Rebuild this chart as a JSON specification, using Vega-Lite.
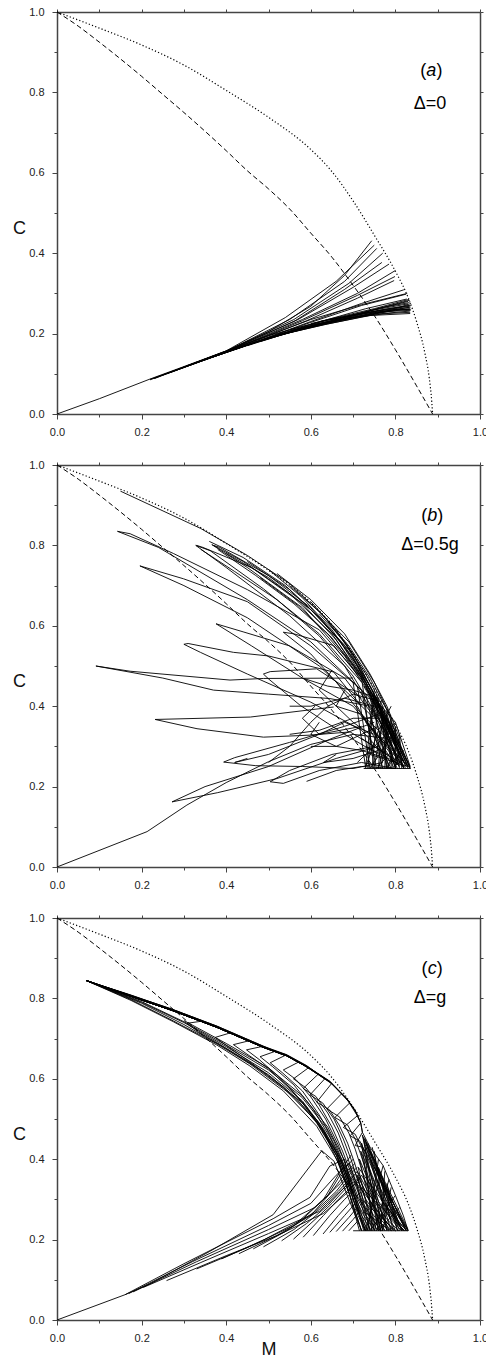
{
"$schema":"https://vega.github.io/schema/vega-lite/v6.json",
"padding":{"left":12,"top":6,"right":0,"bottom":0},
"spacing":22,
"config":{"view":{"stroke":null},"font":"Liberation Sans","axis":{"grid":false,"domainColor":"#444","domainWidth":1.5,"tickColor":"#444","tickWidth":1,"labelFont":"Liberation Sans","labelFontSize":11,"labelColor":"#222","titleFont":"Liberation Sans","titleFontSize":18,"titleFontWeight":"normal","titleColor":"#111"}},
"datasets":{
"dot":[{"M":0,"C":1},{"M":0.1,"C":0.96},{"M":0.2,"C":0.918},{"M":0.3,"C":0.868},{"M":0.4,"C":0.805},{"M":0.5,"C":0.738},{"M":0.6,"C":0.658},{"M":0.65,"C":0.603},{"M":0.7,"C":0.53},{"M":0.75,"C":0.445},{"M":0.8,"C":0.355},{"M":0.83,"C":0.29},{"M":0.85,"C":0.23},{"M":0.87,"C":0.15},{"M":0.88,"C":0.09},{"M":0.886,"C":0.03},{"M":0.888,"C":0}],
"dash":[{"M":0,"C":1},{"M":0.05,"C":0.965},{"M":0.1,"C":0.925},{"M":0.2,"C":0.84},{"M":0.25,"C":0.795},{"M":0.3,"C":0.75},{"M":0.4,"C":0.655},{"M":0.45,"C":0.605},{"M":0.5,"C":0.56},{"M":0.55,"C":0.51},{"M":0.6,"C":0.45},{"M":0.65,"C":0.39},{"M":0.7,"C":0.32},{"M":0.75,"C":0.245},{"M":0.8,"C":0.16},{"M":0.85,"C":0.07},{"M":0.888,"C":0}],
"txt":[
{"p":"a","t":"(","M":0.866,"C":0.853,"it":0},{"p":"a","t":"a","M":0.885,"C":0.853,"it":1},{"p":"a","t":")","M":0.904,"C":0.853,"it":0},{"p":"a","t":"Δ=0","M":0.882,"C":0.771,"it":0},
{"p":"b","t":"(","M":0.868,"C":0.874,"it":0},{"p":"b","t":"b","M":0.887,"C":0.874,"it":1},{"p":"b","t":")","M":0.906,"C":0.874,"it":0},{"p":"b","t":"Δ=0.5g","M":0.882,"C":0.8,"it":0},
{"p":"c","t":"(","M":0.869,"C":0.873,"it":0},{"p":"c","t":"c","M":0.887,"C":0.873,"it":1},{"p":"c","t":")","M":0.905,"C":0.873,"it":0},{"p":"c","t":"Δ=g","M":0.882,"C":0.8,"it":0}],
"A":[
{"s":0,"M":0,"C":0},{"s":0,"M":0.1,"C":0.038},{"s":0,"M":0.22,"C":0.087},{"s":0,"M":0.3,"C":0.118},{"s":0,"M":0.4,"C":0.157},{"s":0,"M":0.5,"C":0.205},{"s":0,"M":0.6,"C":0.268},{"s":0,"M":0.68,"C":0.345},{"s":0,"M":0.744,"C":0.431},
{"s":1,"M":0.22,"C":0.085},{"s":1,"M":0.4,"C":0.156},{"s":1,"M":0.55,"C":0.235},{"s":1,"M":0.68,"C":0.33},{"s":1,"M":0.756,"C":0.412},
{"s":2,"M":0.23,"C":0.089},{"s":2,"M":0.4,"C":0.156},{"s":2,"M":0.56,"C":0.235},{"s":2,"M":0.69,"C":0.325},{"s":2,"M":0.77,"C":0.4},
{"s":3,"M":0.25,"C":0.097},{"s":3,"M":0.4,"C":0.156},{"s":3,"M":0.57,"C":0.235},{"s":3,"M":0.7,"C":0.315},{"s":3,"M":0.785,"C":0.373},
{"s":4,"M":0.22,"C":0.086},{"s":4,"M":0.4,"C":0.155},{"s":4,"M":0.56,"C":0.23},{"s":4,"M":0.68,"C":0.31},{"s":4,"M":0.768,"C":0.377},
{"s":5,"M":0.26,"C":0.1},{"s":5,"M":0.42,"C":0.163},{"s":5,"M":0.58,"C":0.235},{"s":5,"M":0.71,"C":0.3},{"s":5,"M":0.8,"C":0.357},
{"s":6,"M":0.27,"C":0.104},{"s":6,"M":0.42,"C":0.162},{"s":6,"M":0.58,"C":0.232},{"s":6,"M":0.71,"C":0.295},{"s":6,"M":0.799,"C":0.342},
{"s":7,"M":0.28,"C":0.108},{"s":7,"M":0.43,"C":0.165},{"s":7,"M":0.59,"C":0.232},{"s":7,"M":0.71,"C":0.288},{"s":7,"M":0.797,"C":0.332},
{"s":8,"M":0.3,"C":0.116},{"s":8,"M":0.44,"C":0.168},{"s":8,"M":0.6,"C":0.23},{"s":8,"M":0.72,"C":0.275},{"s":8,"M":0.82,"C":0.309},
{"s":9,"M":0.31,"C":0.12},{"s":9,"M":0.45,"C":0.172},{"s":9,"M":0.6,"C":0.228},{"s":9,"M":0.72,"C":0.27},{"s":9,"M":0.825,"C":0.298},
{"s":10,"M":0.33,"C":0.128},{"s":10,"M":0.46,"C":0.175},{"s":10,"M":0.61,"C":0.226},{"s":10,"M":0.73,"C":0.262},{"s":10,"M":0.827,"C":0.286},
{"s":11,"M":0.35,"C":0.135},{"s":11,"M":0.47,"C":0.178},{"s":11,"M":0.62,"C":0.224},{"s":11,"M":0.73,"C":0.255},{"s":11,"M":0.83,"C":0.274},
{"s":12,"M":0.37,"C":0.142},{"s":12,"M":0.48,"C":0.182},{"s":12,"M":0.62,"C":0.222},{"s":12,"M":0.74,"C":0.25},{"s":12,"M":0.833,"C":0.261},
{"s":13,"M":0.4,"C":0.153},{"s":13,"M":0.5,"C":0.19},{"s":13,"M":0.63,"C":0.222},{"s":13,"M":0.74,"C":0.245},{"s":13,"M":0.835,"C":0.25},
{"s":14,"M":0.42,"C":0.16},{"s":14,"M":0.52,"C":0.195},{"s":14,"M":0.64,"C":0.224},{"s":14,"M":0.75,"C":0.248},{"s":14,"M":0.834,"C":0.256},
{"s":15,"M":0.45,"C":0.17},{"s":15,"M":0.55,"C":0.203},{"s":15,"M":0.65,"C":0.228},{"s":15,"M":0.75,"C":0.252},{"s":15,"M":0.833,"C":0.265},
{"s":16,"M":0.48,"C":0.18},{"s":16,"M":0.57,"C":0.21},{"s":16,"M":0.66,"C":0.232},{"s":16,"M":0.76,"C":0.258},{"s":16,"M":0.832,"C":0.27},
{"s":17,"M":0.5,"C":0.19},{"s":17,"M":0.6,"C":0.218},{"s":17,"M":0.68,"C":0.238},{"s":17,"M":0.76,"C":0.262},{"s":17,"M":0.83,"C":0.28},
{"s":18,"M":0.52,"C":0.198},{"s":18,"M":0.62,"C":0.225},{"s":18,"M":0.7,"C":0.245},{"s":18,"M":0.77,"C":0.265},{"s":18,"M":0.832,"C":0.277},
{"s":19,"M":0.55,"C":0.21},{"s":19,"M":0.64,"C":0.233},{"s":19,"M":0.72,"C":0.252},{"s":19,"M":0.78,"C":0.268},{"s":19,"M":0.834,"C":0.283},
{"s":20,"M":0.23,"C":0.088},{"s":20,"M":0.4,"C":0.157},{"s":20,"M":0.54,"C":0.24},{"s":20,"M":0.66,"C":0.33},{"s":20,"M":0.75,"C":0.42},
{"s":21,"M":0.6,"C":0.222},{"s":21,"M":0.7,"C":0.24},{"s":21,"M":0.78,"C":0.25},{"s":21,"M":0.835,"C":0.253},
{"s":22,"M":0.65,"C":0.235},{"s":22,"M":0.73,"C":0.25},{"s":22,"M":0.8,"C":0.26},{"s":22,"M":0.836,"C":0.26},
{"s":23,"M":0.45,"C":0.172},{"s":23,"M":0.58,"C":0.215},{"s":23,"M":0.7,"C":0.245},{"s":23,"M":0.79,"C":0.263},{"s":23,"M":0.836,"C":0.27},
{"s":24,"M":0.5,"C":0.19},{"s":24,"M":0.62,"C":0.222},{"s":24,"M":0.72,"C":0.243},{"s":24,"M":0.8,"C":0.258},{"s":24,"M":0.835,"C":0.262},
{"s":25,"M":0.55,"C":0.208},{"s":25,"M":0.66,"C":0.232},{"s":25,"M":0.75,"C":0.25},{"s":25,"M":0.81,"C":0.262},{"s":25,"M":0.836,"C":0.266},
{"s":26,"M":0.4,"C":0.155},{"s":26,"M":0.55,"C":0.205},{"s":26,"M":0.68,"C":0.237},{"s":26,"M":0.78,"C":0.255},{"s":26,"M":0.836,"C":0.258},
{"s":27,"M":0.35,"C":0.136},{"s":27,"M":0.5,"C":0.195},{"s":27,"M":0.64,"C":0.235},{"s":27,"M":0.75,"C":0.262},{"s":27,"M":0.832,"C":0.285},
{"s":28,"M":0.3,"C":0.117},{"s":28,"M":0.46,"C":0.18},{"s":28,"M":0.6,"C":0.235},{"s":28,"M":0.72,"C":0.272},{"s":28,"M":0.828,"C":0.3},
{"s":29,"M":0.6,"C":0.225},{"s":29,"M":0.7,"C":0.247},{"s":29,"M":0.78,"C":0.26},{"s":29,"M":0.834,"C":0.268},
{"s":30,"M":0.62,"C":0.23},{"s":30,"M":0.72,"C":0.25},{"s":30,"M":0.8,"C":0.262},{"s":30,"M":0.837,"C":0.275}],
"B":[
{"s":0,"M":0,"C":0},{"s":0,"M":0.213,"C":0.088},{"s":0,"M":0.307,"C":0.154},{"s":0,"M":0.4,"C":0.21},{"s":0,"M":0.5,"C":0.262},{"s":0,"M":0.6,"C":0.305},{"s":0,"M":0.7,"C":0.33},{"s":0,"M":0.78,"C":0.32},{"s":0,"M":0.82,"C":0.25},
{"s":1,"M":0.15,"C":0.935},{"s":1,"M":0.34,"C":0.842},{"s":1,"M":0.45,"C":0.775},{"s":1,"M":0.55,"C":0.705},{"s":1,"M":0.63,"C":0.625},{"s":1,"M":0.7,"C":0.53},{"s":1,"M":0.75,"C":0.43},{"s":1,"M":0.79,"C":0.35},{"s":1,"M":0.835,"C":0.245},
{"s":2,"M":0.33,"C":0.8},{"s":2,"M":0.345,"C":0.795},{"s":2,"M":0.46,"C":0.745},{"s":2,"M":0.58,"C":0.655},{"s":2,"M":0.66,"C":0.565},{"s":2,"M":0.72,"C":0.47},{"s":2,"M":0.77,"C":0.38},{"s":2,"M":0.82,"C":0.26},
{"s":3,"M":0.37,"C":0.8},{"s":3,"M":0.385,"C":0.795},{"s":3,"M":0.5,"C":0.725},{"s":3,"M":0.6,"C":0.645},{"s":3,"M":0.67,"C":0.56},{"s":3,"M":0.73,"C":0.46},{"s":3,"M":0.78,"C":0.36},{"s":3,"M":0.83,"C":0.25},
{"s":4,"M":0.34,"C":0.79},{"s":4,"M":0.42,"C":0.735},{"s":4,"M":0.52,"C":0.665},{"s":4,"M":0.62,"C":0.575},{"s":4,"M":0.7,"C":0.475},{"s":4,"M":0.76,"C":0.37},{"s":4,"M":0.8,"C":0.28},{"s":4,"M":0.82,"C":0.245},
{"s":5,"M":0.38,"C":0.79},{"s":5,"M":0.47,"C":0.725},{"s":5,"M":0.56,"C":0.655},{"s":5,"M":0.64,"C":0.58},{"s":5,"M":0.71,"C":0.49},{"s":5,"M":0.77,"C":0.39},{"s":5,"M":0.81,"C":0.3},{"s":5,"M":0.8,"C":0.245},
{"s":6,"M":0.52,"C":0.73},{"s":6,"M":0.6,"C":0.665},{"s":6,"M":0.68,"C":0.58},{"s":6,"M":0.74,"C":0.48},{"s":6,"M":0.78,"C":0.4},{"s":6,"M":0.81,"C":0.32},{"s":6,"M":0.78,"C":0.245},
{"s":7,"M":0.55,"C":0.7},{"s":7,"M":0.62,"C":0.635},{"s":7,"M":0.69,"C":0.56},{"s":7,"M":0.75,"C":0.46},{"s":7,"M":0.79,"C":0.37},{"s":7,"M":0.76,"C":0.245},
{"s":8,"M":0.72,"C":0.47},{"s":8,"M":0.62,"C":0.59},{"s":8,"M":0.45,"C":0.69},{"s":8,"M":0.275,"C":0.78},{"s":8,"M":0.173,"C":0.829},{"s":8,"M":0.143,"C":0.835},{"s":8,"M":0.24,"C":0.795},{"s":8,"M":0.45,"C":0.665},{"s":8,"M":0.6,"C":0.56},{"s":8,"M":0.74,"C":0.42},{"s":8,"M":0.79,"C":0.3},
{"s":9,"M":0.72,"C":0.44},{"s":9,"M":0.6,"C":0.55},{"s":9,"M":0.45,"C":0.66},{"s":9,"M":0.299,"C":0.717},{"s":9,"M":0.196,"C":0.749},{"s":9,"M":0.3,"C":0.7},{"s":9,"M":0.45,"C":0.62},{"s":9,"M":0.62,"C":0.5},{"s":9,"M":0.74,"C":0.38},{"s":9,"M":0.77,"C":0.27},
{"s":10,"M":0.72,"C":0.46},{"s":10,"M":0.62,"C":0.58},{"s":10,"M":0.488,"C":0.692},{"s":10,"M":0.362,"C":0.787},{"s":10,"M":0.328,"C":0.8},{"s":10,"M":0.4,"C":0.745},{"s":10,"M":0.55,"C":0.625},{"s":10,"M":0.68,"C":0.5},{"s":10,"M":0.76,"C":0.36},{"s":10,"M":0.8,"C":0.26},
{"s":11,"M":0.73,"C":0.46},{"s":11,"M":0.65,"C":0.58},{"s":11,"M":0.55,"C":0.68},{"s":11,"M":0.44,"C":0.76},{"s":11,"M":0.366,"C":0.802},{"s":11,"M":0.45,"C":0.745},{"s":11,"M":0.58,"C":0.645},{"s":11,"M":0.68,"C":0.525},{"s":11,"M":0.77,"C":0.38},{"s":11,"M":0.81,"C":0.27},
{"s":12,"M":0.76,"C":0.36},{"s":12,"M":0.68,"C":0.47},{"s":12,"M":0.55,"C":0.55},{"s":12,"M":0.44,"C":0.585},{"s":12,"M":0.376,"C":0.605},{"s":12,"M":0.46,"C":0.55},{"s":12,"M":0.58,"C":0.47},{"s":12,"M":0.7,"C":0.4},{"s":12,"M":0.78,"C":0.3},
{"s":13,"M":0.72,"C":0.4},{"s":13,"M":0.654,"C":0.485},{"s":13,"M":0.5,"C":0.525},{"s":13,"M":0.417,"C":0.534},{"s":13,"M":0.31,"C":0.556},{"s":13,"M":0.3,"C":0.554},{"s":13,"M":0.339,"C":0.534},{"s":13,"M":0.45,"C":0.48},{"s":13,"M":0.6,"C":0.41},{"s":13,"M":0.72,"C":0.34},{"s":13,"M":0.79,"C":0.26},
{"s":14,"M":0.7,"C":0.47},{"s":14,"M":0.488,"C":0.469},{"s":14,"M":0.409,"C":0.465},{"s":14,"M":0.173,"C":0.487},{"s":14,"M":0.092,"C":0.5},{"s":14,"M":0.25,"C":0.47},{"s":14,"M":0.37,"C":0.44},{"s":14,"M":0.5,"C":0.43},{"s":14,"M":0.645,"C":0.419},{"s":14,"M":0.74,"C":0.4},{"s":14,"M":0.8,"C":0.3},
{"s":15,"M":0.654,"C":0.398},{"s":15,"M":0.457,"C":0.373},{"s":15,"M":0.232,"C":0.367},{"s":15,"M":0.331,"C":0.344},{"s":15,"M":0.488,"C":0.323},{"s":15,"M":0.598,"C":0.328},{"s":15,"M":0.693,"C":0.336},{"s":15,"M":0.78,"C":0.28},
{"s":16,"M":0.75,"C":0.36},{"s":16,"M":0.65,"C":0.32},{"s":16,"M":0.5,"C":0.25},{"s":16,"M":0.35,"C":0.2},{"s":16,"M":0.272,"C":0.162},{"s":16,"M":0.38,"C":0.185},{"s":16,"M":0.52,"C":0.22},{"s":16,"M":0.66,"C":0.27},{"s":16,"M":0.76,"C":0.3},{"s":16,"M":0.81,"C":0.25},
{"s":17,"M":0.76,"C":0.38},{"s":17,"M":0.68,"C":0.35},{"s":17,"M":0.55,"C":0.31},{"s":17,"M":0.42,"C":0.272},{"s":17,"M":0.394,"C":0.261},{"s":17,"M":0.47,"C":0.252},{"s":17,"M":0.58,"C":0.25},{"s":17,"M":0.7,"C":0.245},{"s":17,"M":0.77,"C":0.26},
{"s":18,"M":0.75,"C":0.3},{"s":18,"M":0.65,"C":0.28},{"s":18,"M":0.55,"C":0.24},{"s":18,"M":0.504,"C":0.212},{"s":18,"M":0.535,"C":0.208},{"s":18,"M":0.62,"C":0.24},{"s":18,"M":0.72,"C":0.26},{"s":18,"M":0.8,"C":0.245},
{"s":19,"M":0.72,"C":0.42},{"s":19,"M":0.614,"C":0.493},{"s":19,"M":0.504,"C":0.486},{"s":19,"M":0.488,"C":0.48},{"s":19,"M":0.5,"C":0.468},{"s":19,"M":0.575,"C":0.402},{"s":19,"M":0.68,"C":0.33},{"s":19,"M":0.76,"C":0.28},
{"s":20,"M":0.74,"C":0.44},{"s":20,"M":0.654,"C":0.551},{"s":20,"M":0.56,"C":0.58},{"s":20,"M":0.535,"C":0.584},{"s":20,"M":0.6,"C":0.53},{"s":20,"M":0.66,"C":0.46},{"s":20,"M":0.72,"C":0.38},{"s":20,"M":0.79,"C":0.28},
{"s":21,"M":0.59,"C":0.213},{"s":21,"M":0.66,"C":0.24},{"s":21,"M":0.72,"C":0.25},{"s":21,"M":0.8,"C":0.245},
{"s":22,"M":0.5,"C":0.26},{"s":22,"M":0.55,"C":0.3},{"s":22,"M":0.6,"C":0.36},{"s":22,"M":0.64,"C":0.4},{"s":22,"M":0.7,"C":0.43},{"s":22,"M":0.77,"C":0.41},
{"s":23,"M":0.61,"C":0.4},{"s":23,"M":0.58,"C":0.37},{"s":23,"M":0.62,"C":0.33},{"s":23,"M":0.68,"C":0.36},{"s":23,"M":0.75,"C":0.33},
{"s":24,"M":0.65,"C":0.49},{"s":24,"M":0.62,"C":0.44},{"s":24,"M":0.66,"C":0.4},{"s":24,"M":0.72,"C":0.38},{"s":24,"M":0.78,"C":0.32},
{"s":25,"M":0.55,"C":0.4},{"s":25,"M":0.6,"C":0.4},{"s":25,"M":0.68,"C":0.42},{"s":25,"M":0.75,"C":0.4},{"s":25,"M":0.8,"C":0.34},
{"s":26,"M":0.725,"C":0.245},{"s":26,"M":0.835,"C":0.245},
{"s":27,"M":0.72,"C":0.47},{"s":27,"M":0.75,"C":0.245},
{"s":28,"M":0.74,"C":0.44},{"s":28,"M":0.78,"C":0.245},
{"s":29,"M":0.76,"C":0.41},{"s":29,"M":0.8,"C":0.245},
{"s":30,"M":0.78,"C":0.38},{"s":30,"M":0.82,"C":0.245},
{"s":31,"M":0.79,"C":0.36},{"s":31,"M":0.835,"C":0.245},
{"s":32,"M":0.75,"C":0.42},{"s":32,"M":0.8,"C":0.36},{"s":32,"M":0.835,"C":0.25},
{"s":33,"M":0.73,"C":0.45},{"s":33,"M":0.77,"C":0.37},{"s":33,"M":0.81,"C":0.28},
{"s":34,"M":0.71,"C":0.26},{"s":34,"M":0.77,"C":0.32},{"s":34,"M":0.8,"C":0.36},
{"s":35,"M":0.73,"C":0.25},{"s":35,"M":0.76,"C":0.34},{"s":35,"M":0.79,"C":0.4},
{"s":36,"M":0.6,"C":0.3},{"s":36,"M":0.66,"C":0.3},{"s":36,"M":0.7,"C":0.32},{"s":36,"M":0.76,"C":0.35},
{"s":37,"M":0.45,"C":0.27},{"s":37,"M":0.42,"C":0.26},{"s":37,"M":0.5,"C":0.28},{"s":37,"M":0.62,"C":0.33},{"s":37,"M":0.72,"C":0.35},
{"s":38,"M":0.7,"C":0.46},{"s":38,"M":0.73,"C":0.245},
{"s":39,"M":0.71,"C":0.45},{"s":39,"M":0.74,"C":0.245},
{"s":40,"M":0.72,"C":0.44},{"s":40,"M":0.755,"C":0.245},
{"s":41,"M":0.73,"C":0.43},{"s":41,"M":0.77,"C":0.245},
{"s":42,"M":0.74,"C":0.42},{"s":42,"M":0.785,"C":0.245},
{"s":43,"M":0.75,"C":0.41},{"s":43,"M":0.8,"C":0.245},
{"s":44,"M":0.76,"C":0.4},{"s":44,"M":0.81,"C":0.245},
{"s":45,"M":0.77,"C":0.39},{"s":45,"M":0.82,"C":0.245},
{"s":46,"M":0.78,"C":0.37},{"s":46,"M":0.83,"C":0.245},
{"s":47,"M":0.79,"C":0.35},{"s":47,"M":0.835,"C":0.248},
{"s":48,"M":0.71,"C":0.4},{"s":48,"M":0.79,"C":0.245},
{"s":49,"M":0.72,"C":0.38},{"s":49,"M":0.805,"C":0.245},
{"s":50,"M":0.73,"C":0.36},{"s":50,"M":0.825,"C":0.245},
{"s":51,"M":0.74,"C":0.35},{"s":51,"M":0.835,"C":0.245},
{"s":52,"M":0.75,"C":0.44},{"s":52,"M":0.735,"C":0.245},
{"s":53,"M":0.76,"C":0.42},{"s":53,"M":0.745,"C":0.245},
{"s":54,"M":0.77,"C":0.4},{"s":54,"M":0.76,"C":0.245},
{"s":55,"M":0.78,"C":0.39},{"s":55,"M":0.775,"C":0.245},
{"s":56,"M":0.79,"C":0.37},{"s":56,"M":0.79,"C":0.245},
{"s":57,"M":0.8,"C":0.35},{"s":57,"M":0.8,"C":0.245},
{"s":58,"M":0.81,"C":0.33},{"s":58,"M":0.815,"C":0.245},
{"s":59,"M":0.745,"C":0.4},{"s":59,"M":0.73,"C":0.25},
{"s":60,"M":0.4,"C":0.78},{"s":60,"M":0.5,"C":0.72},{"s":60,"M":0.6,"C":0.64},{"s":60,"M":0.68,"C":0.55},{"s":60,"M":0.74,"C":0.45},{"s":60,"M":0.79,"C":0.34},{"s":60,"M":0.83,"C":0.25},
{"s":61,"M":0.45,"C":0.76},{"s":61,"M":0.55,"C":0.69},{"s":61,"M":0.63,"C":0.61},{"s":61,"M":0.7,"C":0.52},{"s":61,"M":0.75,"C":0.42},{"s":61,"M":0.8,"C":0.31},{"s":61,"M":0.825,"C":0.25},
{"s":62,"M":0.5,"C":0.74},{"s":62,"M":0.58,"C":0.67},{"s":62,"M":0.65,"C":0.59},{"s":62,"M":0.71,"C":0.5},{"s":62,"M":0.76,"C":0.4},{"s":62,"M":0.8,"C":0.3},
{"s":63,"M":0.48,"C":0.72},{"s":63,"M":0.57,"C":0.65},{"s":63,"M":0.65,"C":0.57},{"s":63,"M":0.72,"C":0.47},{"s":63,"M":0.77,"C":0.36},{"s":63,"M":0.81,"C":0.26},
{"s":64,"M":0.6,"C":0.66},{"s":64,"M":0.66,"C":0.59},{"s":64,"M":0.71,"C":0.51},{"s":64,"M":0.75,"C":0.43},{"s":64,"M":0.79,"C":0.33},{"s":64,"M":0.82,"C":0.26},
{"s":65,"M":0.62,"C":0.63},{"s":65,"M":0.68,"C":0.56},{"s":65,"M":0.73,"C":0.48},{"s":65,"M":0.77,"C":0.4},{"s":65,"M":0.8,"C":0.32},
{"s":66,"M":0.36,"C":0.81},{"s":66,"M":0.44,"C":0.77},{"s":66,"M":0.54,"C":0.7},{"s":66,"M":0.62,"C":0.62},{"s":66,"M":0.69,"C":0.54},{"s":66,"M":0.745,"C":0.44},{"s":66,"M":0.79,"C":0.33},
{"s":67,"M":0.64,"C":0.61},{"s":67,"M":0.69,"C":0.55},{"s":67,"M":0.74,"C":0.47},{"s":67,"M":0.78,"C":0.39},{"s":67,"M":0.81,"C":0.31},
{"s":68,"M":0.58,"C":0.47},{"s":68,"M":0.64,"C":0.45},{"s":68,"M":0.7,"C":0.44},{"s":68,"M":0.76,"C":0.42},
{"s":69,"M":0.62,"C":0.36},{"s":69,"M":0.6,"C":0.33},{"s":69,"M":0.66,"C":0.3},{"s":69,"M":0.72,"C":0.29},{"s":69,"M":0.78,"C":0.27},
{"s":70,"M":0.66,"C":0.28},{"s":70,"M":0.63,"C":0.26},{"s":70,"M":0.7,"C":0.27},{"s":70,"M":0.76,"C":0.29},
{"s":71,"M":0.55,"C":0.33},{"s":71,"M":0.62,"C":0.34},{"s":71,"M":0.7,"C":0.37},{"s":71,"M":0.76,"C":0.37},
{"s":72,"M":0.68,"C":0.44},{"s":72,"M":0.66,"C":0.4},{"s":72,"M":0.7,"C":0.36},{"s":72,"M":0.74,"C":0.33},
{"s":73,"M":0.8,"C":0.34},{"s":73,"M":0.74,"C":0.245},
{"s":74,"M":0.81,"C":0.31},{"s":74,"M":0.755,"C":0.245},
{"s":75,"M":0.79,"C":0.36},{"s":75,"M":0.765,"C":0.245},
{"s":76,"M":0.775,"C":0.39},{"s":76,"M":0.75,"C":0.25},
{"s":77,"M":0.765,"C":0.41},{"s":77,"M":0.78,"C":0.245},
{"s":78,"M":0.755,"C":0.43},{"s":78,"M":0.795,"C":0.245},
{"s":79,"M":0.745,"C":0.43},{"s":79,"M":0.81,"C":0.25},
{"s":80,"M":0.735,"C":0.44},{"s":80,"M":0.825,"C":0.25},
{"s":81,"M":0.725,"C":0.45},{"s":81,"M":0.83,"C":0.26},
{"s":82,"M":0.72,"C":0.32},{"s":82,"M":0.81,"C":0.26},
{"s":83,"M":0.73,"C":0.3},{"s":83,"M":0.82,"C":0.25},
{"s":84,"M":0.74,"C":0.28},{"s":84,"M":0.83,"C":0.25},
{"s":85,"M":0.82,"C":0.29},{"s":85,"M":0.78,"C":0.25},
{"s":86,"M":0.825,"C":0.27},{"s":86,"M":0.795,"C":0.25}],
"Cc":[
{"s":1,"M":0.07,"C":0.844},{"s":1,"M":0.175,"C":0.805},{"s":1,"M":0.275,"C":0.769},{"s":1,"M":0.34,"C":0.743},{"s":1,"M":0.307,"C":0.738},{"s":1,"M":0.335,"C":0.716},{"s":1,"M":0.378,"C":0.69},{"s":1,"M":0.456,"C":0.64},{"s":1,"M":0.535,"C":0.578},{"s":1,"M":0.614,"C":0.493},{"s":1,"M":0.661,"C":0.41},{"s":1,"M":0.685,"C":0.335},{"s":1,"M":0.708,"C":0.26},{"s":1,"M":0.72,"C":0.222},
{"s":2,"M":0.07,"C":0.844},{"s":2,"M":0.175,"C":0.805},{"s":2,"M":0.275,"C":0.769},{"s":2,"M":0.378,"C":0.728},{"s":2,"M":0.409,"C":0.714},{"s":2,"M":0.374,"C":0.703},{"s":2,"M":0.404,"C":0.68},{"s":2,"M":0.456,"C":0.642},{"s":2,"M":0.535,"C":0.58},{"s":2,"M":0.614,"C":0.497},{"s":2,"M":0.661,"C":0.415},{"s":2,"M":0.688,"C":0.34},{"s":2,"M":0.712,"C":0.26},{"s":2,"M":0.728,"C":0.222},
{"s":3,"M":0.07,"C":0.844},{"s":3,"M":0.175,"C":0.806},{"s":3,"M":0.275,"C":0.77},{"s":3,"M":0.378,"C":0.729},{"s":3,"M":0.452,"C":0.694},{"s":3,"M":0.417,"C":0.685},{"s":3,"M":0.447,"C":0.663},{"s":3,"M":0.5,"C":0.625},{"s":3,"M":0.56,"C":0.565},{"s":3,"M":0.62,"C":0.49},{"s":3,"M":0.665,"C":0.41},{"s":3,"M":0.692,"C":0.34},{"s":3,"M":0.716,"C":0.26},{"s":3,"M":0.736,"C":0.222},
{"s":4,"M":0.07,"C":0.844},{"s":4,"M":0.175,"C":0.807},{"s":4,"M":0.275,"C":0.771},{"s":4,"M":0.378,"C":0.73},{"s":4,"M":0.483,"C":0.68},{"s":4,"M":0.448,"C":0.672},{"s":4,"M":0.478,"C":0.648},{"s":4,"M":0.54,"C":0.59},{"s":4,"M":0.59,"C":0.53},{"s":4,"M":0.635,"C":0.46},{"s":4,"M":0.67,"C":0.39},{"s":4,"M":0.697,"C":0.32},{"s":4,"M":0.72,"C":0.26},{"s":4,"M":0.744,"C":0.222},
{"s":5,"M":0.07,"C":0.844},{"s":5,"M":0.175,"C":0.805},{"s":5,"M":0.275,"C":0.769},{"s":5,"M":0.378,"C":0.728},{"s":5,"M":0.488,"C":0.678},{"s":5,"M":0.515,"C":0.668},{"s":5,"M":0.48,"C":0.655},{"s":5,"M":0.51,"C":0.63},{"s":5,"M":0.56,"C":0.585},{"s":5,"M":0.605,"C":0.525},{"s":5,"M":0.645,"C":0.455},{"s":5,"M":0.678,"C":0.38},{"s":5,"M":0.7,"C":0.315},{"s":5,"M":0.725,"C":0.26},{"s":5,"M":0.752,"C":0.222},
{"s":6,"M":0.07,"C":0.844},{"s":6,"M":0.175,"C":0.808},{"s":6,"M":0.275,"C":0.772},{"s":6,"M":0.378,"C":0.731},{"s":6,"M":0.488,"C":0.681},{"s":6,"M":0.539,"C":0.658},{"s":6,"M":0.504,"C":0.64},{"s":6,"M":0.534,"C":0.614},{"s":6,"M":0.58,"C":0.57},{"s":6,"M":0.62,"C":0.51},{"s":6,"M":0.655,"C":0.445},{"s":6,"M":0.685,"C":0.37},{"s":6,"M":0.707,"C":0.31},{"s":6,"M":0.73,"C":0.26},{"s":6,"M":0.76,"C":0.222},
{"s":7,"M":0.07,"C":0.844},{"s":7,"M":0.175,"C":0.805},{"s":7,"M":0.275,"C":0.769},{"s":7,"M":0.378,"C":0.728},{"s":7,"M":0.488,"C":0.678},{"s":7,"M":0.543,"C":0.657},{"s":7,"M":0.57,"C":0.641},{"s":7,"M":0.535,"C":0.622},{"s":7,"M":0.565,"C":0.598},{"s":7,"M":0.6,"C":0.555},{"s":7,"M":0.635,"C":0.5},{"s":7,"M":0.665,"C":0.435},{"s":7,"M":0.69,"C":0.365},{"s":7,"M":0.712,"C":0.305},{"s":7,"M":0.737,"C":0.26},{"s":7,"M":0.768,"C":0.222},
{"s":8,"M":0.07,"C":0.844},{"s":8,"M":0.175,"C":0.806},{"s":8,"M":0.275,"C":0.77},{"s":8,"M":0.378,"C":0.729},{"s":8,"M":0.488,"C":0.679},{"s":8,"M":0.543,"C":0.659},{"s":8,"M":0.594,"C":0.627},{"s":8,"M":0.559,"C":0.6},{"s":8,"M":0.589,"C":0.577},{"s":8,"M":0.62,"C":0.535},{"s":8,"M":0.65,"C":0.48},{"s":8,"M":0.675,"C":0.42},{"s":8,"M":0.697,"C":0.36},{"s":8,"M":0.718,"C":0.3},{"s":8,"M":0.745,"C":0.255},{"s":8,"M":0.776,"C":0.222},
{"s":9,"M":0.07,"C":0.844},{"s":9,"M":0.175,"C":0.805},{"s":9,"M":0.275,"C":0.769},{"s":9,"M":0.378,"C":0.728},{"s":9,"M":0.488,"C":0.678},{"s":9,"M":0.543,"C":0.657},{"s":9,"M":0.59,"C":0.63},{"s":9,"M":0.617,"C":0.611},{"s":9,"M":0.582,"C":0.576},{"s":9,"M":0.612,"C":0.556},{"s":9,"M":0.64,"C":0.515},{"s":9,"M":0.665,"C":0.465},{"s":9,"M":0.685,"C":0.41},{"s":9,"M":0.703,"C":0.355},{"s":9,"M":0.724,"C":0.3},{"s":9,"M":0.752,"C":0.255},{"s":9,"M":0.784,"C":0.222},
{"s":10,"M":0.07,"C":0.844},{"s":10,"M":0.175,"C":0.808},{"s":10,"M":0.275,"C":0.772},{"s":10,"M":0.378,"C":0.731},{"s":10,"M":0.488,"C":0.681},{"s":10,"M":0.543,"C":0.66},{"s":10,"M":0.59,"C":0.633},{"s":10,"M":0.633,"C":0.6},{"s":10,"M":0.598,"C":0.56},{"s":10,"M":0.628,"C":0.54},{"s":10,"M":0.655,"C":0.5},{"s":10,"M":0.677,"C":0.45},{"s":10,"M":0.695,"C":0.4},{"s":10,"M":0.71,"C":0.35},{"s":10,"M":0.73,"C":0.3},{"s":10,"M":0.76,"C":0.255},{"s":10,"M":0.792,"C":0.222},
{"s":11,"M":0.07,"C":0.844},{"s":11,"M":0.175,"C":0.805},{"s":11,"M":0.275,"C":0.769},{"s":11,"M":0.378,"C":0.728},{"s":11,"M":0.488,"C":0.678},{"s":11,"M":0.543,"C":0.657},{"s":11,"M":0.59,"C":0.63},{"s":11,"M":0.649,"C":0.588},{"s":11,"M":0.614,"C":0.542},{"s":11,"M":0.644,"C":0.523},{"s":11,"M":0.667,"C":0.485},{"s":11,"M":0.687,"C":0.44},{"s":11,"M":0.702,"C":0.395},{"s":11,"M":0.716,"C":0.35},{"s":11,"M":0.737,"C":0.3},{"s":11,"M":0.768,"C":0.255},{"s":11,"M":0.8,"C":0.222},
{"s":12,"M":0.07,"C":0.844},{"s":12,"M":0.175,"C":0.806},{"s":12,"M":0.275,"C":0.77},{"s":12,"M":0.378,"C":0.729},{"s":12,"M":0.488,"C":0.679},{"s":12,"M":0.543,"C":0.658},{"s":12,"M":0.59,"C":0.631},{"s":12,"M":0.645,"C":0.593},{"s":12,"M":0.673,"C":0.563},{"s":12,"M":0.638,"C":0.525},{"s":12,"M":0.668,"C":0.505},{"s":12,"M":0.69,"C":0.465},{"s":12,"M":0.705,"C":0.425},{"s":12,"M":0.717,"C":0.385},{"s":12,"M":0.73,"C":0.34},{"s":12,"M":0.75,"C":0.295},{"s":12,"M":0.78,"C":0.25},{"s":12,"M":0.808,"C":0.222},
{"s":13,"M":0.07,"C":0.844},{"s":13,"M":0.175,"C":0.807},{"s":13,"M":0.275,"C":0.771},{"s":13,"M":0.378,"C":0.73},{"s":13,"M":0.488,"C":0.68},{"s":13,"M":0.543,"C":0.659},{"s":13,"M":0.59,"C":0.632},{"s":13,"M":0.645,"C":0.594},{"s":13,"M":0.692,"C":0.54},{"s":13,"M":0.657,"C":0.504},{"s":13,"M":0.687,"C":0.485},{"s":13,"M":0.705,"C":0.45},{"s":13,"M":0.717,"C":0.415},{"s":13,"M":0.728,"C":0.38},{"s":13,"M":0.742,"C":0.34},{"s":13,"M":0.76,"C":0.295},{"s":13,"M":0.79,"C":0.25},{"s":13,"M":0.815,"C":0.222},
{"s":14,"M":0.07,"C":0.844},{"s":14,"M":0.175,"C":0.805},{"s":14,"M":0.275,"C":0.769},{"s":14,"M":0.378,"C":0.728},{"s":14,"M":0.488,"C":0.678},{"s":14,"M":0.543,"C":0.657},{"s":14,"M":0.59,"C":0.63},{"s":14,"M":0.645,"C":0.592},{"s":14,"M":0.685,"C":0.55},{"s":14,"M":0.71,"C":0.508},{"s":14,"M":0.677,"C":0.479},{"s":14,"M":0.705,"C":0.462},{"s":14,"M":0.72,"C":0.43},{"s":14,"M":0.732,"C":0.395},{"s":14,"M":0.745,"C":0.36},{"s":14,"M":0.76,"C":0.32},{"s":14,"M":0.775,"C":0.285},{"s":14,"M":0.8,"C":0.245},{"s":14,"M":0.822,"C":0.222},
{"s":15,"M":0.07,"C":0.844},{"s":15,"M":0.175,"C":0.806},{"s":15,"M":0.275,"C":0.77},{"s":15,"M":0.378,"C":0.729},{"s":15,"M":0.488,"C":0.679},{"s":15,"M":0.543,"C":0.658},{"s":15,"M":0.59,"C":0.631},{"s":15,"M":0.645,"C":0.593},{"s":15,"M":0.685,"C":0.551},{"s":15,"M":0.705,"C":0.521},{"s":15,"M":0.718,"C":0.49},{"s":15,"M":0.693,"C":0.458},{"s":15,"M":0.716,"C":0.445},{"s":15,"M":0.73,"C":0.415},{"s":15,"M":0.742,"C":0.385},{"s":15,"M":0.755,"C":0.35},{"s":15,"M":0.77,"C":0.315},{"s":15,"M":0.79,"C":0.275},{"s":15,"M":0.81,"C":0.24},{"s":15,"M":0.828,"C":0.222},
{"s":16,"M":0.07,"C":0.844},{"s":16,"M":0.175,"C":0.805},{"s":16,"M":0.275,"C":0.769},{"s":16,"M":0.378,"C":0.728},{"s":16,"M":0.488,"C":0.678},{"s":16,"M":0.543,"C":0.657},{"s":16,"M":0.59,"C":0.63},{"s":16,"M":0.645,"C":0.592},{"s":16,"M":0.685,"C":0.55},{"s":16,"M":0.705,"C":0.52},{"s":16,"M":0.718,"C":0.49},{"s":16,"M":0.722,"C":0.467},{"s":16,"M":0.705,"C":0.434},{"s":16,"M":0.722,"C":0.43},{"s":16,"M":0.74,"C":0.4},{"s":16,"M":0.755,"C":0.37},{"s":16,"M":0.771,"C":0.335},{"s":16,"M":0.786,"C":0.3},{"s":16,"M":0.8,"C":0.27},{"s":16,"M":0.815,"C":0.245},{"s":16,"M":0.83,"C":0.222},
{"s":17,"M":0.07,"C":0.844},{"s":17,"M":0.175,"C":0.806},{"s":17,"M":0.275,"C":0.77},{"s":17,"M":0.378,"C":0.729},{"s":17,"M":0.488,"C":0.679},{"s":17,"M":0.543,"C":0.658},{"s":17,"M":0.59,"C":0.631},{"s":17,"M":0.645,"C":0.593},{"s":17,"M":0.685,"C":0.551},{"s":17,"M":0.705,"C":0.521},{"s":17,"M":0.718,"C":0.491},{"s":17,"M":0.722,"C":0.467},{"s":17,"M":0.74,"C":0.43},{"s":17,"M":0.771,"C":0.384},{"s":17,"M":0.8,"C":0.31},{"s":17,"M":0.819,"C":0.259},{"s":17,"M":0.83,"C":0.222},
{"s":18,"M":0.07,"C":0.844},{"s":18,"M":0.175,"C":0.797},{"s":18,"M":0.275,"C":0.744},{"s":18,"M":0.378,"C":0.687},{"s":18,"M":0.456,"C":0.637},{"s":18,"M":0.535,"C":0.575},{"s":18,"M":0.567,"C":0.55},{"s":18,"M":0.614,"C":0.49},{"s":18,"M":0.661,"C":0.409},{"s":18,"M":0.685,"C":0.334},{"s":18,"M":0.708,"C":0.259},{"s":18,"M":0.72,"C":0.222},
{"s":19,"M":0.07,"C":0.844},{"s":19,"M":0.175,"C":0.795},{"s":19,"M":0.275,"C":0.742},{"s":19,"M":0.378,"C":0.684},{"s":19,"M":0.456,"C":0.632},{"s":19,"M":0.535,"C":0.57},{"s":19,"M":0.614,"C":0.482},{"s":19,"M":0.661,"C":0.4},{"s":19,"M":0.69,"C":0.33},{"s":19,"M":0.715,"C":0.26},{"s":19,"M":0.73,"C":0.222},
{"s":20,"M":0.07,"C":0.844},{"s":20,"M":0.2,"C":0.79},{"s":20,"M":0.3,"C":0.74},{"s":20,"M":0.4,"C":0.68},{"s":20,"M":0.5,"C":0.615},{"s":20,"M":0.58,"C":0.545},{"s":20,"M":0.63,"C":0.475},{"s":20,"M":0.67,"C":0.4},{"s":20,"M":0.7,"C":0.32},{"s":20,"M":0.725,"C":0.222},
{"s":21,"M":0.07,"C":0.844},{"s":21,"M":0.2,"C":0.788},{"s":21,"M":0.3,"C":0.735},{"s":21,"M":0.4,"C":0.675},{"s":21,"M":0.5,"C":0.61},{"s":21,"M":0.58,"C":0.54},{"s":21,"M":0.63,"C":0.47},{"s":21,"M":0.665,"C":0.39},{"s":21,"M":0.692,"C":0.31},{"s":21,"M":0.715,"C":0.222},
{"s":22,"M":0.07,"C":0.844},{"s":22,"M":0.2,"C":0.792},{"s":22,"M":0.3,"C":0.742},{"s":22,"M":0.4,"C":0.684},{"s":22,"M":0.5,"C":0.622},{"s":22,"M":0.58,"C":0.553},{"s":22,"M":0.635,"C":0.48},{"s":22,"M":0.672,"C":0.4},{"s":22,"M":0.7,"C":0.32},{"s":22,"M":0.728,"C":0.222},
{"s":23,"M":0.3,"C":0.745},{"s":23,"M":0.4,"C":0.688},{"s":23,"M":0.5,"C":0.627},{"s":23,"M":0.58,"C":0.558},{"s":23,"M":0.64,"C":0.48},{"s":23,"M":0.678,"C":0.4},{"s":23,"M":0.703,"C":0.32},{"s":23,"M":0.732,"C":0.222},
{"s":30,"M":0,"C":0},{"s":30,"M":0.161,"C":0.063},{"s":30,"M":0.22,"C":0.09},{"s":30,"M":0.36,"C":0.17},{"s":30,"M":0.511,"C":0.262},{"s":30,"M":0.626,"C":0.421},{"s":30,"M":0.655,"C":0.395},{"s":30,"M":0.69,"C":0.3},{"s":30,"M":0.72,"C":0.222},
{"s":31,"M":0.161,"C":0.063},{"s":31,"M":0.3,"C":0.14},{"s":31,"M":0.511,"C":0.252},{"s":31,"M":0.598,"C":0.305},{"s":31,"M":0.645,"C":0.383},{"s":31,"M":0.68,"C":0.4},{"s":31,"M":0.7,"C":0.3},{"s":31,"M":0.73,"C":0.222},
{"s":32,"M":0.17,"C":0.066},{"s":32,"M":0.32,"C":0.145},{"s":32,"M":0.5,"C":0.235},{"s":32,"M":0.6,"C":0.29},{"s":32,"M":0.66,"C":0.36},{"s":32,"M":0.69,"C":0.39},{"s":32,"M":0.72,"C":0.3},{"s":32,"M":0.74,"C":0.222},
{"s":33,"M":0.18,"C":0.07},{"s":33,"M":0.33,"C":0.145},{"s":33,"M":0.5,"C":0.225},{"s":33,"M":0.61,"C":0.28},{"s":33,"M":0.67,"C":0.34},{"s":33,"M":0.7,"C":0.38},{"s":33,"M":0.73,"C":0.3},{"s":33,"M":0.75,"C":0.222},
{"s":34,"M":0.204,"C":0.081},{"s":34,"M":0.34,"C":0.143},{"s":34,"M":0.5,"C":0.215},{"s":34,"M":0.62,"C":0.27},{"s":34,"M":0.68,"C":0.33},{"s":34,"M":0.71,"C":0.37},{"s":34,"M":0.745,"C":0.3},{"s":34,"M":0.76,"C":0.222},
{"s":35,"M":0.259,"C":0.098},{"s":35,"M":0.4,"C":0.16},{"s":35,"M":0.52,"C":0.21},{"s":35,"M":0.63,"C":0.265},{"s":35,"M":0.69,"C":0.32},{"s":35,"M":0.72,"C":0.36},{"s":35,"M":0.755,"C":0.3},{"s":35,"M":0.77,"C":0.222},
{"s":36,"M":0.33,"C":0.127},{"s":36,"M":0.45,"C":0.18},{"s":36,"M":0.56,"C":0.235},{"s":36,"M":0.63,"C":0.3},{"s":36,"M":0.67,"C":0.37},{"s":36,"M":0.695,"C":0.41},
{"s":37,"M":0.389,"C":0.152},{"s":37,"M":0.49,"C":0.2},{"s":37,"M":0.58,"C":0.25},{"s":37,"M":0.64,"C":0.31},{"s":37,"M":0.675,"C":0.37},{"s":37,"M":0.7,"C":0.4},
{"s":38,"M":0.43,"C":0.165},{"s":38,"M":0.52,"C":0.21},{"s":38,"M":0.6,"C":0.26},{"s":38,"M":0.65,"C":0.32},{"s":38,"M":0.685,"C":0.37},{"s":38,"M":0.705,"C":0.39},
{"s":39,"M":0.464,"C":0.177},{"s":39,"M":0.54,"C":0.22},{"s":39,"M":0.61,"C":0.27},{"s":39,"M":0.66,"C":0.32},{"s":39,"M":0.69,"C":0.36},{"s":39,"M":0.71,"C":0.38},
{"s":40,"M":0.488,"C":0.182},{"s":40,"M":0.56,"C":0.225},{"s":40,"M":0.62,"C":0.275},{"s":40,"M":0.665,"C":0.32},{"s":40,"M":0.7,"C":0.36},
{"s":41,"M":0.531,"C":0.197},{"s":41,"M":0.59,"C":0.24},{"s":41,"M":0.64,"C":0.285},{"s":41,"M":0.675,"C":0.325},{"s":41,"M":0.705,"C":0.355},
{"s":42,"M":0.559,"C":0.201},{"s":42,"M":0.61,"C":0.25},{"s":42,"M":0.65,"C":0.29},{"s":42,"M":0.685,"C":0.33},{"s":42,"M":0.71,"C":0.35},
{"s":43,"M":0.582,"C":0.206},{"s":43,"M":0.63,"C":0.26},{"s":43,"M":0.665,"C":0.3},{"s":43,"M":0.695,"C":0.33},{"s":43,"M":0.715,"C":0.345},
{"s":44,"M":0.606,"C":0.21},{"s":44,"M":0.645,"C":0.26},{"s":44,"M":0.68,"C":0.3},{"s":44,"M":0.705,"C":0.325},
{"s":45,"M":0.629,"C":0.214},{"s":45,"M":0.665,"C":0.26},{"s":45,"M":0.695,"C":0.295},{"s":45,"M":0.715,"C":0.315},
{"s":46,"M":0.645,"C":0.218},{"s":46,"M":0.68,"C":0.26},{"s":46,"M":0.705,"C":0.29},
{"s":47,"M":0.66,"C":0.22},{"s":47,"M":0.69,"C":0.255},{"s":47,"M":0.71,"C":0.28},
{"s":48,"M":0.675,"C":0.221},{"s":48,"M":0.7,"C":0.25},{"s":48,"M":0.715,"C":0.27},
{"s":49,"M":0.69,"C":0.222},{"s":49,"M":0.71,"C":0.245},
{"s":50,"M":0.7,"C":0.222},{"s":50,"M":0.83,"C":0.222},
{"s":60,"M":0.722,"C":0.46},{"s":60,"M":0.77,"C":0.222},
{"s":61,"M":0.722,"C":0.46},{"s":61,"M":0.79,"C":0.222},
{"s":62,"M":0.725,"C":0.455},{"s":62,"M":0.81,"C":0.222},
{"s":63,"M":0.72,"C":0.44},{"s":63,"M":0.75,"C":0.222},
{"s":64,"M":0.72,"C":0.44},{"s":64,"M":0.78,"C":0.222},
{"s":65,"M":0.718,"C":0.42},{"s":65,"M":0.765,"C":0.222},
{"s":66,"M":0.718,"C":0.42},{"s":66,"M":0.8,"C":0.222},
{"s":67,"M":0.715,"C":0.4},{"s":67,"M":0.755,"C":0.222},
{"s":68,"M":0.715,"C":0.4},{"s":68,"M":0.785,"C":0.222},
{"s":69,"M":0.712,"C":0.38},{"s":69,"M":0.745,"C":0.222},
{"s":70,"M":0.712,"C":0.38},{"s":70,"M":0.82,"C":0.222},
{"s":71,"M":0.71,"C":0.36},{"s":71,"M":0.74,"C":0.222},
{"s":72,"M":0.71,"C":0.36},{"s":72,"M":0.775,"C":0.222},
{"s":73,"M":0.708,"C":0.34},{"s":73,"M":0.735,"C":0.222},
{"s":74,"M":0.708,"C":0.34},{"s":74,"M":0.795,"C":0.222},
{"s":75,"M":0.73,"C":0.44},{"s":75,"M":0.825,"C":0.222},
{"s":76,"M":0.74,"C":0.42},{"s":76,"M":0.83,"C":0.225},
{"s":77,"M":0.75,"C":0.4},{"s":77,"M":0.805,"C":0.222},
{"s":78,"M":0.76,"C":0.38},{"s":78,"M":0.815,"C":0.222},
{"s":79,"M":0.725,"C":0.45},{"s":79,"M":0.76,"C":0.222},
{"s":80,"M":0.73,"C":0.43},{"s":80,"M":0.805,"C":0.245},
{"s":81,"M":0.74,"C":0.4},{"s":81,"M":0.79,"C":0.25},
{"s":82,"M":0.728,"C":0.45},{"s":82,"M":0.77,"C":0.3},{"s":82,"M":0.818,"C":0.222},
{"s":83,"M":0.732,"C":0.44},{"s":83,"M":0.78,"C":0.31},{"s":83,"M":0.826,"C":0.222},
{"s":84,"M":0.771,"C":0.384},{"s":84,"M":0.73,"C":0.222},
{"s":85,"M":0.8,"C":0.31},{"s":85,"M":0.74,"C":0.222},
{"s":86,"M":0.76,"C":0.4},{"s":86,"M":0.735,"C":0.222},
{"s":87,"M":0.785,"C":0.35},{"s":87,"M":0.75,"C":0.222},
{"s":88,"M":0.81,"C":0.28},{"s":88,"M":0.76,"C":0.222},
{"s":89,"M":0.79,"C":0.33},{"s":89,"M":0.77,"C":0.222},
{"s":90,"M":0.75,"C":0.42},{"s":90,"M":0.78,"C":0.222},
{"s":91,"M":0.745,"C":0.43},{"s":91,"M":0.795,"C":0.222},
{"s":92,"M":0.735,"C":0.44},{"s":92,"M":0.815,"C":0.222},
{"s":93,"M":0.728,"C":0.45},{"s":93,"M":0.825,"C":0.222},
{"s":94,"M":0.72,"C":0.3},{"s":94,"M":0.8,"C":0.222},
{"s":95,"M":0.72,"C":0.33},{"s":95,"M":0.82,"C":0.222},
{"s":96,"M":0.725,"C":0.27},{"s":96,"M":0.79,"C":0.222},
{"s":97,"M":0.76,"C":0.36},{"s":97,"M":0.83,"C":0.222},
{"s":98,"M":0.75,"C":0.38},{"s":98,"M":0.825,"C":0.23},
{"s":99,"M":0.74,"C":0.35},{"s":99,"M":0.765,"C":0.222},
{"s":100,"M":0.73,"C":0.4},{"s":100,"M":0.745,"C":0.222},
{"s":101,"M":0.78,"C":0.34},{"s":101,"M":0.805,"C":0.222},
{"s":102,"M":0.765,"C":0.3},{"s":102,"M":0.82,"C":0.23},
{"s":103,"M":0.79,"C":0.3},{"s":103,"M":0.755,"C":0.222},
{"s":104,"M":0.775,"C":0.37},{"s":104,"M":0.765,"C":0.222}]
},
"vconcat":[
{"width":423,"height":402,"layer":[
{"data":{"name":"dot"},"mark":{"type":"line","color":"#000","strokeWidth":1.2,"strokeDash":[1.2,2.2],"interpolate":"monotone"},
"encoding":{"x":{"field":"M","type":"quantitative","scale":{"domain":[0,1],"nice":false,"zero":false},"axis":{"orient":"bottom","values":[0,0.1,0.2,0.3,0.4,0.5,0.6,0.7,0.8,0.9,1],"labelExpr":"round(datum.value*10)%2==0 ? format(datum.value,'.1f') : ''","tickSize":{"condition":{"test":"round(datum.value*10)%2==0","value":5},"value":3},"labelPadding":7,"labelFlush":false,"labelOverlap":false,"title":null}},
"y":{"field":"C","type":"quantitative","scale":{"domain":[0,1],"nice":false,"zero":false},"axis":{"orient":"left","values":[0,0.1,0.2,0.3,0.4,0.5,0.6,0.7,0.8,0.9,1],"labelExpr":"round(datum.value*10)%2==0 ? format(datum.value,'.1f') : ''","tickSize":{"condition":{"test":"round(datum.value*10)%2==0","value":5},"value":3},"labelPadding":8,"labelFlush":false,"labelOverlap":false,"title":"C","titleAngle":0,"titleAlign":"center","titleBaseline":"middle","titleX":-38,"titleY":216}},
"order":{"value":null}}},
{"data":{"name":"dash"},"mark":{"type":"line","color":"#000","strokeWidth":1,"strokeDash":[5,3],"interpolate":"monotone"},
"encoding":{"x":{"field":"M","type":"quantitative","scale":{"domain":[0,1],"nice":false,"zero":false},"axis":{"orient":"top","values":[0,0.1,0.2,0.3,0.4,0.5,0.6,0.7,0.8,0.9,1],"labels":false,"tickSize":3,"title":null}},
"y":{"field":"C","type":"quantitative","scale":{"domain":[0,1],"nice":false,"zero":false},"axis":{"orient":"right","values":[0,0.1,0.2,0.3,0.4,0.5,0.6,0.7,0.8,0.9,1],"labels":false,"tickSize":3,"title":null}},
"order":{"value":null}}},
{"data":{"name":"A"},"mark":{"type":"line","color":"#000","strokeWidth":0.9},
"encoding":{"x":{"field":"M","type":"quantitative","scale":{"domain":[0,1],"nice":false,"zero":false},"axis":null},"y":{"field":"C","type":"quantitative","scale":{"domain":[0,1],"nice":false,"zero":false},"axis":null},"detail":{"field":"s","type":"nominal"},"order":{"value":null}}},
{"data":{"name":"txt"},"transform":[{"filter":"datum.p=='a' && datum.it==0"}],"mark":{"type":"text","fontSize":18,"font":"Liberation Sans","color":"#000","baseline":"middle","align":"center"},
"encoding":{"x":{"field":"M","type":"quantitative","scale":{"domain":[0,1],"nice":false,"zero":false},"axis":null},"y":{"field":"C","type":"quantitative","scale":{"domain":[0,1],"nice":false,"zero":false},"axis":null},"text":{"field":"t"}}},
{"data":{"name":"txt"},"transform":[{"filter":"datum.p=='a' && datum.it==1"}],"mark":{"type":"text","fontSize":18,"font":"Liberation Sans","fontStyle":"italic","color":"#000","baseline":"middle","align":"center"},
"encoding":{"x":{"field":"M","type":"quantitative","scale":{"domain":[0,1],"nice":false,"zero":false},"axis":null},"y":{"field":"C","type":"quantitative","scale":{"domain":[0,1],"nice":false,"zero":false},"axis":null},"text":{"field":"t"}}}
]},
{"width":423,"height":402,"layer":[
{"data":{"name":"dot"},"mark":{"type":"line","color":"#000","strokeWidth":1.2,"strokeDash":[1.2,2.2],"interpolate":"monotone"},
"encoding":{"x":{"field":"M","type":"quantitative","scale":{"domain":[0,1],"nice":false,"zero":false},"axis":{"orient":"bottom","values":[0,0.1,0.2,0.3,0.4,0.5,0.6,0.7,0.8,0.9,1],"labelExpr":"round(datum.value*10)%2==0 ? format(datum.value,'.1f') : ''","tickSize":{"condition":{"test":"round(datum.value*10)%2==0","value":5},"value":3},"labelPadding":7,"labelFlush":false,"labelOverlap":false,"title":null}},
"y":{"field":"C","type":"quantitative","scale":{"domain":[0,1],"nice":false,"zero":false},"axis":{"orient":"left","values":[0,0.1,0.2,0.3,0.4,0.5,0.6,0.7,0.8,0.9,1],"labelExpr":"round(datum.value*10)%2==0 ? format(datum.value,'.1f') : ''","tickSize":{"condition":{"test":"round(datum.value*10)%2==0","value":5},"value":3},"labelPadding":8,"labelFlush":false,"labelOverlap":false,"title":"C","titleAngle":0,"titleAlign":"center","titleBaseline":"middle","titleX":-38,"titleY":216}},
"order":{"value":null}}},
{"data":{"name":"dash"},"mark":{"type":"line","color":"#000","strokeWidth":1,"strokeDash":[5,3],"interpolate":"monotone"},
"encoding":{"x":{"field":"M","type":"quantitative","scale":{"domain":[0,1],"nice":false,"zero":false},"axis":{"orient":"top","values":[0,0.1,0.2,0.3,0.4,0.5,0.6,0.7,0.8,0.9,1],"labels":false,"tickSize":3,"title":null}},
"y":{"field":"C","type":"quantitative","scale":{"domain":[0,1],"nice":false,"zero":false},"axis":{"orient":"right","values":[0,0.1,0.2,0.3,0.4,0.5,0.6,0.7,0.8,0.9,1],"labels":false,"tickSize":3,"title":null}},
"order":{"value":null}}},
{"data":{"name":"B"},"mark":{"type":"line","color":"#000","strokeWidth":0.9},
"encoding":{"x":{"field":"M","type":"quantitative","scale":{"domain":[0,1],"nice":false,"zero":false},"axis":null},"y":{"field":"C","type":"quantitative","scale":{"domain":[0,1],"nice":false,"zero":false},"axis":null},"detail":{"field":"s","type":"nominal"},"order":{"value":null}}},
{"data":{"name":"txt"},"transform":[{"filter":"datum.p=='b' && datum.it==0"}],"mark":{"type":"text","fontSize":18,"font":"Liberation Sans","color":"#000","baseline":"middle","align":"center"},
"encoding":{"x":{"field":"M","type":"quantitative","scale":{"domain":[0,1],"nice":false,"zero":false},"axis":null},"y":{"field":"C","type":"quantitative","scale":{"domain":[0,1],"nice":false,"zero":false},"axis":null},"text":{"field":"t"}}},
{"data":{"name":"txt"},"transform":[{"filter":"datum.p=='b' && datum.it==1"}],"mark":{"type":"text","fontSize":18,"font":"Liberation Sans","fontStyle":"italic","color":"#000","baseline":"middle","align":"center"},
"encoding":{"x":{"field":"M","type":"quantitative","scale":{"domain":[0,1],"nice":false,"zero":false},"axis":null},"y":{"field":"C","type":"quantitative","scale":{"domain":[0,1],"nice":false,"zero":false},"axis":null},"text":{"field":"t"}}}
]},
{"width":423,"height":402,"layer":[
{"data":{"name":"dot"},"mark":{"type":"line","color":"#000","strokeWidth":1.2,"strokeDash":[1.2,2.2],"interpolate":"monotone"},
"encoding":{"x":{"field":"M","type":"quantitative","scale":{"domain":[0,1],"nice":false,"zero":false},"axis":{"orient":"bottom","values":[0,0.1,0.2,0.3,0.4,0.5,0.6,0.7,0.8,0.9,1],"labelExpr":"round(datum.value*10)%2==0 ? format(datum.value,'.1f') : ''","tickSize":{"condition":{"test":"round(datum.value*10)%2==0","value":5},"value":3},"labelPadding":7,"labelFlush":false,"labelOverlap":false,"title":"M","titlePadding":-3}},
"y":{"field":"C","type":"quantitative","scale":{"domain":[0,1],"nice":false,"zero":false},"axis":{"orient":"left","values":[0,0.1,0.2,0.3,0.4,0.5,0.6,0.7,0.8,0.9,1],"labelExpr":"round(datum.value*10)%2==0 ? format(datum.value,'.1f') : ''","tickSize":{"condition":{"test":"round(datum.value*10)%2==0","value":5},"value":3},"labelPadding":8,"labelFlush":false,"labelOverlap":false,"title":"C","titleAngle":0,"titleAlign":"center","titleBaseline":"middle","titleX":-38,"titleY":216}},
"order":{"value":null}}},
{"data":{"name":"dash"},"mark":{"type":"line","color":"#000","strokeWidth":1,"strokeDash":[5,3],"interpolate":"monotone"},
"encoding":{"x":{"field":"M","type":"quantitative","scale":{"domain":[0,1],"nice":false,"zero":false},"axis":{"orient":"top","values":[0,0.1,0.2,0.3,0.4,0.5,0.6,0.7,0.8,0.9,1],"labels":false,"tickSize":3,"title":null}},
"y":{"field":"C","type":"quantitative","scale":{"domain":[0,1],"nice":false,"zero":false},"axis":{"orient":"right","values":[0,0.1,0.2,0.3,0.4,0.5,0.6,0.7,0.8,0.9,1],"labels":false,"tickSize":3,"title":null}},
"order":{"value":null}}},
{"data":{"name":"Cc"},"mark":{"type":"line","color":"#000","strokeWidth":0.9},
"encoding":{"x":{"field":"M","type":"quantitative","scale":{"domain":[0,1],"nice":false,"zero":false},"axis":null},"y":{"field":"C","type":"quantitative","scale":{"domain":[0,1],"nice":false,"zero":false},"axis":null},"detail":{"field":"s","type":"nominal"},"order":{"value":null}}},
{"data":{"name":"txt"},"transform":[{"filter":"datum.p=='c' && datum.it==0"}],"mark":{"type":"text","fontSize":18,"font":"Liberation Sans","color":"#000","baseline":"middle","align":"center"},
"encoding":{"x":{"field":"M","type":"quantitative","scale":{"domain":[0,1],"nice":false,"zero":false},"axis":null},"y":{"field":"C","type":"quantitative","scale":{"domain":[0,1],"nice":false,"zero":false},"axis":null},"text":{"field":"t"}}},
{"data":{"name":"txt"},"transform":[{"filter":"datum.p=='c' && datum.it==1"}],"mark":{"type":"text","fontSize":18,"font":"Liberation Sans","fontStyle":"italic","color":"#000","baseline":"middle","align":"center"},
"encoding":{"x":{"field":"M","type":"quantitative","scale":{"domain":[0,1],"nice":false,"zero":false},"axis":null},"y":{"field":"C","type":"quantitative","scale":{"domain":[0,1],"nice":false,"zero":false},"axis":null},"text":{"field":"t"}}}
]}
]
}
